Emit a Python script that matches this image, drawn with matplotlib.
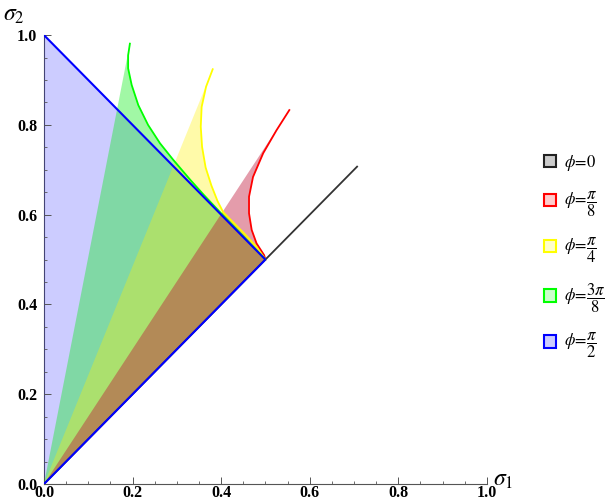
import matplotlib
matplotlib.use("Agg")
import matplotlib.pyplot as plt
from matplotlib.patches import Patch
from matplotlib.ticker import MultipleLocator

plt.rcParams["font.family"] = ["Liberation Serif", "DejaVu Serif"]
plt.rcParams["mathtext.fontset"] = "stix"

# boundary curves (start at the corner (0.5, 0.5), end at the tip)
s1_black = [0.0, 0.707]
s2_black = [0.0, 0.707]

s1_red = [0.500, 0.497, 0.480, 0.469, 0.463, 0.463, 0.472, 0.495, 0.525, 0.554]
s2_red = [0.500, 0.510, 0.536, 0.566, 0.603, 0.640, 0.684, 0.737, 0.788, 0.833]

s1_yellow = [0.500, 0.480, 0.455, 0.425, 0.405, 0.392, 0.378, 0.365, 0.357, 0.354, 0.356, 0.366, 0.381]
s2_yellow = [0.500, 0.528, 0.555, 0.585, 0.605, 0.630, 0.665, 0.705, 0.751, 0.796, 0.840, 0.885, 0.924]

s1_green = [0.500, 0.450, 0.400, 0.360, 0.330, 0.292, 0.262, 0.235, 0.213, 0.198, 0.190, 0.190, 0.194]
s2_green = [0.500, 0.552, 0.603, 0.645, 0.678, 0.722, 0.759, 0.800, 0.844, 0.889, 0.926, 0.955, 0.981]

s1_blue = [0.0, 0.5, 0.0]
s2_blue = [0.0, 0.5, 1.0]

labels = [r"$\phi\!=\!0$", r"$\phi\!=\!\dfrac{\pi}{8}$", r"$\phi\!=\!\dfrac{\pi}{4}$",
          r"$\phi\!=\!\dfrac{3\pi}{8}$", r"$\phi\!=\!\dfrac{\pi}{2}$"]

fig = plt.figure(figsize=(6.05, 5.01), dpi=100)
ax = fig.add_axes([0.0727, 0.0339, 0.732, 0.896])

# fills: blue at the bottom, red on top (colours tuned so the overlaps come out like the original)
ax.fill([0.0] + s1_blue[1:], [0.0] + s2_blue[1:], color=(0.0, 0.0, 1.0), alpha=0.2, lw=0, zorder=1)
ax.fill([0.0] + s1_green, [0.0] + s2_green, color=(0.0, 0.93, 0.05), alpha=0.37, lw=0, zorder=2)
ax.fill([0.0] + s1_yellow, [0.0] + s2_yellow, color=(1.0, 0.95, 0.02), alpha=0.34, lw=0, zorder=3)
ax.fill([0.0] + s1_red, [0.0] + s2_red, color=(0.75, 0.08, 0.22), alpha=0.42, lw=0, zorder=4)

# boundary lines
ax.plot(s1_black, s2_black, color="#333333", lw=1.3, zorder=5)
ax.plot(s1_red, s2_red, color="red", lw=1.3, zorder=6)
ax.plot(s1_yellow, s2_yellow, color="yellow", lw=1.3, zorder=6)
ax.plot(s1_green, s2_green, color=(0.0, 1.0, 0.0), lw=1.3, zorder=6)
ax.plot(s1_blue, s2_blue, color="blue", lw=1.5, zorder=7)

ax.set_xlim(0, 1)
ax.set_ylim(0, 1)
for side in ["top", "right"]:
    ax.spines[side].set_visible(False)
for side in ["left", "bottom"]:
    ax.spines[side].set_color("#555555")
    ax.spines[side].set_linewidth(0.8)
    ax.spines[side].set_zorder(0)

ax.xaxis.set_major_locator(MultipleLocator(0.2))
ax.yaxis.set_major_locator(MultipleLocator(0.2))
ax.xaxis.set_minor_locator(MultipleLocator(0.05))
ax.yaxis.set_minor_locator(MultipleLocator(0.05))
ax.tick_params(which="major", direction="in", length=5, width=0.7, color="#555555", pad=1)
ax.tick_params(which="minor", direction="in", length=2.5, width=0.6, color="#555555")
ax.tick_params(axis="y", pad=5)
ax.set_xticklabels(["%.1f" % v for v in ax.get_xticks()], fontweight="bold", fontsize=11.5)
ax.set_yticklabels(["%.1f" % v for v in ax.get_yticks()], fontweight="bold", fontsize=11.5)

fig.text(0.815, 0.03, r"$\sigma_1$", fontsize=17)
fig.text(0.005, 0.958, r"$\sigma_2$", fontsize=17)

handles = [
    Patch(facecolor=(0.8, 0.8, 0.8), edgecolor="#222222", lw=1.5),
    Patch(facecolor=(1.0, 0.8, 0.8), edgecolor="red", lw=1.5),
    Patch(facecolor=(1.0, 1.0, 0.8), edgecolor="yellow", lw=1.5),
    Patch(facecolor=(0.8, 1.0, 0.8), edgecolor=(0.0, 1.0, 0.0), lw=1.5),
    Patch(facecolor=(0.8, 0.8, 1.0), edgecolor="blue", lw=1.5),
]
fig.legend(handles, labels, loc="upper left", bbox_to_anchor=(0.888, 0.708),
           frameon=False, fontsize=12, handlelength=0.75, handleheight=0.75,
           handletextpad=0.45, labelspacing=1.0, borderaxespad=0)

fig.savefig("out.png", dpi=100)
